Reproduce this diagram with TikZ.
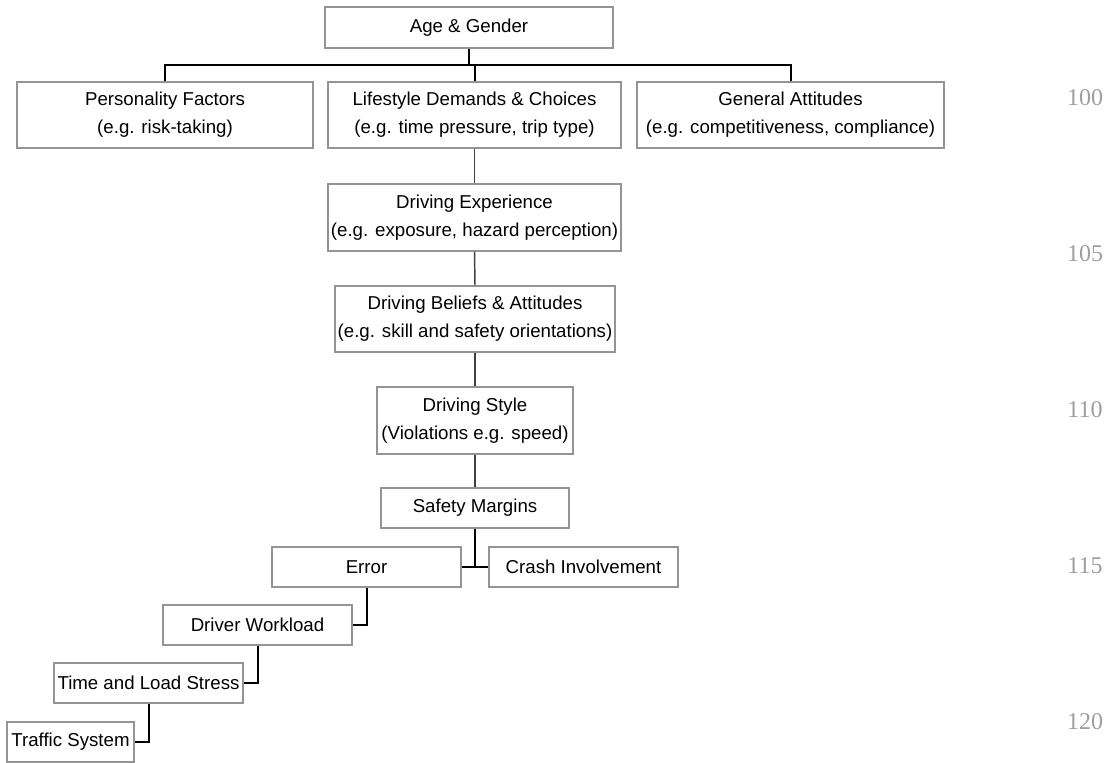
\documentclass[tikz,border=0pt]{standalone}
\usepackage{fontspec}
\setmainfont{Liberation Sans}
\newfontfamily\numfont{Liberation Serif}
\begin{document}
\begin{tikzpicture}[x=0.75pt,y=-0.75pt,
  box/.style={draw=black!42, line width=1.1pt, fill=white, inner sep=0pt, align=center,
    font=\fontsize{14}{21}\selectfont, text=black},
  conn/.style={draw=black, line width=1.5pt},
  spine/.style={draw=black!75, line width=1.1pt},
  linenum/.style={font=\numfont\fontsize{18}{18}\selectfont, text=black!38}]
\path[use as bounding box, fill=white] (0,0) rectangle (1115,763);
% boxes
\node[box, minimum width=216pt, minimum height=30.75pt] (age) at (469,27.5) {Age \& Gender};
\node[box, minimum width=222pt, minimum height=49.5pt] (pers) at (165,115) {Personality Factors\\(e.g. risk-taking)};
\node[box, minimum width=219.75pt, minimum height=49.5pt] (life) at (474.5,115) {Lifestyle Demands \& Choices\\(e.g. time pressure, trip type)};
\node[box, minimum width=230pt, minimum height=49.5pt] (gen) at (790.5,115) {General Attitudes\\(e.g. competitiveness, compliance)};
\node[box, minimum width=219.75pt, minimum height=50.25pt] (exp) at (474.5,217.5) {Driving Experience\\(e.g. exposure, hazard perception)};
\node[box, minimum width=210pt, minimum height=49.5pt] (bel) at (475,319) {Driving Beliefs \& Attitudes\\(e.g. skill and safety orientations)};
\node[box, minimum width=147pt, minimum height=50.25pt] (sty) at (475,420.5) {Driving Style\\(Violations e.g. speed)};
\node[box, minimum width=141pt, minimum height=30pt] (safe) at (475,508) {Safety Margins};
\node[box, minimum width=141.75pt, minimum height=30pt] (err) at (366.5,567) {Error};
\node[box, minimum width=141.75pt, minimum height=30pt] (crash) at (583.5,567) {Crash Involvement};
\node[box, minimum width=141.75pt, minimum height=30pt] (work) at (257.5,625) {Driver Workload};
\node[box, minimum width=141.75pt, minimum height=30pt] (tls) at (148.5,683) {Time and Load Stress};
\node[box, minimum width=95.25pt, minimum height=30pt] (traf) at (70.5,742) {Traffic System};
% bus
\coordinate (bus) at (469,65);
\draw[conn] (age.south) -- (age.south |- bus);
\draw[conn] (pers.north) |- (gen.north |- bus) -- (gen.north);
\draw[conn] (life.north) -- (life.north |- bus);
% spine
\draw[spine] (life.south) -- (exp.north);
\draw[spine] (exp.south) -- (bel.north);
\draw[spine] (bel.south) -- (sty.north);
\draw[spine] (sty.south) -- (safe.north);
% lower
\draw[conn] (safe.south) -- (safe.south |- err.east);
\draw[conn] (err.east) -- (crash.west);
\draw[conn] (err.south) |- (work.east);
\draw[conn] (work.south) |- (tls.east);
\draw[conn] (tls.south) |- (traf.east);
% line numbers
\node[linenum] (n100) at (1085,98) {100};
\node[linenum] (n105) at (1085,254) {105};
\node[linenum] (n110) at (1085,410) {110};
\node[linenum] (n115) at (1085,566) {115};
\node[linenum] (n120) at (1085,722) {120};
\end{tikzpicture}
\end{document}
